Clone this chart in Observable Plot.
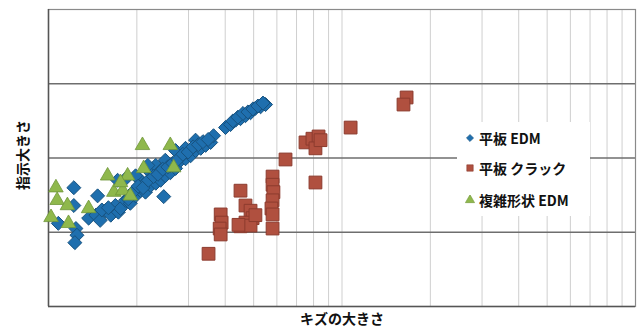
<!DOCTYPE html>
<html><head><meta charset="utf-8">
<script src="https://cdn.jsdelivr.net/npm/d3@7"></script>
<script src="https://cdn.jsdelivr.net/npm/@observablehq/plot@0.6"></script>
<style>
body{margin:0;background:#fff;}
#wrap{position:relative;width:638px;height:331px;font-family:"Noto Sans CJK JP","Noto Sans",sans-serif;color:#111;}
#wrap > svg{position:absolute;left:0;top:0;}
.ylab{position:absolute;left:22px;top:155px;transform:translate(-50%,-50%) rotate(-90deg);font-weight:bold;font-size:14px;white-space:nowrap;}
.xlab{position:absolute;left:342px;top:318px;transform:translate(-50%,-50%);font-weight:bold;font-size:14px;white-space:nowrap;}
#legend{position:absolute;left:457px;top:122px;width:133px;height:94px;background:#fff;}
#legend .li{position:absolute;left:8px;display:flex;align-items:center;font-size:14px;font-weight:bold;white-space:nowrap;}
#legend .li svg{position:static;margin-right:4px;flex:none;}
</style></head><body>
<div id="wrap"></div>
<script>
const seriesNames = ["平板 EDM", "平板 クラック", "複雑形状 EDM"];
const xLabel = "キズの大きさ";
const yLabel = "指示大きさ";
const xGrid = [2,3,4,5,6,7,8,9,10,20,30,40,50,60,70,80,90];
const yGrid = [1,2,3];

// 平板 EDM (blue diamonds)
const edmX = [1.22,1.47,1.22,1.08,1.24,1.25,1.23,1.37,1.45,1.50,1.56,1.63,1.69,1.73,1.76,1.83,1.90,1.98,2.06,2.06,2.14,2.23,2.23,2.32,2.32,2.41,2.41,2.47,2.50,2.50,2.60,2.60,2.71,2.71,2.82,2.93,2.93,3.05,3.17,3.17,3.30,3.43,3.57,3.65,4.01,4.17,4.34,4.51,4.69,4.88,5.07,5.28,5.49,1.72,1.83,1.98,2.18,2.11,
  1.52,1.60,1.87,1.95,2.02,2.10,2.19,2.28,2.36,2.45,2.55,2.65,2.76,2.87,2.99,3.11,3.24,3.36,3.50,4.25,4.42,4.60,4.78,4.97,5.17,5.38];
const edmY = [1.60,1.49,1.36,1.12,1.05,0.96,0.86,1.19,1.23,1.16,1.29,1.23,1.36,1.27,1.32,1.43,1.39,1.49,1.56,1.70,1.54,1.63,1.80,1.66,1.90,1.70,1.83,1.48,1.76,1.97,1.80,1.90,1.86,2.10,1.97,1.99,2.13,2.03,2.10,2.24,2.13,2.17,2.21,2.30,2.41,2.45,2.51,2.53,2.57,2.61,2.67,2.69,2.72,1.70,1.72,1.76,1.90,1.64,
  1.30,1.33,1.45,1.55,1.62,1.60,1.70,1.75,1.78,1.85,1.88,1.93,1.98,2.05,2.08,2.15,2.18,2.22,2.25,2.50,2.55,2.60,2.62,2.66,2.70,2.74];

// 平板 クラック (red squares)
const crackX = [3.51,3.86,3.89,3.83,3.86,4.51,4.69,4.88,4.96,4.69,4.51,4.88,5.07,4.44,5.80,5.80,5.84,5.80,5.75,5.80,5.80,6.42,8.12,7.51,7.93,8.32,8.12,8.45,10.7,16.6,16.2];
const crackY = [0.71,1.24,1.13,1.05,0.97,1.56,1.36,1.29,1.19,1.13,1.08,1.09,1.23,1.10,1.75,1.64,1.54,1.43,1.32,1.24,1.05,1.98,1.67,2.21,2.26,2.29,2.13,2.24,2.41,2.815,2.72];

// 複雑形状 EDM (green triangles)
const cxX = [2.09,2.60,2.11,2.67,1.06,1.07,1.16,1.02,1.17,1.37,1.59,1.86,1.67,1.79,1.90,1.76];
const cxY = [2.17,2.17,1.86,1.87,1.60,1.43,1.36,1.20,1.12,1.32,1.76,1.76,1.54,1.56,1.49,1.67];

const colors = ["#1f6fae","#b0503f","#8fb84c"];
const strokes = ["#17527f","#8c3b2e","#6f9638"];

const toRows = (xs, ys) => xs.map((x, i) => ({x, y: ys[i]}));
const edm = toRows(edmX, edmY), crack = toRows(crackX, crackY), cx = toRows(cxX, cxY);

const chart = Plot.plot({
  width: 638, height: 331,
  marginLeft: 48, marginRight: 3, marginTop: 9, marginBottom: 25,
  x: {type: "log", domain: [1, 100], axis: null},
  y: {domain: [0, 4], axis: null},
  style: {background: "transparent"},
  marks: [
    Plot.ruleX(xGrid, {stroke: "#cfcfcf", strokeWidth: 1}),
    Plot.ruleY(yGrid, {stroke: "#6e6e6e", strokeWidth: 1.3}),
    Plot.frame({stroke: "#8a8a8a", strokeWidth: 1.2}),
    Plot.ruleX([1], {stroke: "#555", strokeWidth: 1.5}),
    Plot.ruleY([0], {stroke: "#555", strokeWidth: 1.5}),
    Plot.dot(edm, {x: "x", y: "y", symbol: "diamond2", r: 6.3, fill: colors[0], stroke: strokes[0], strokeWidth: 1}),
    Plot.dot(crack, {x: "x", y: "y", symbol: "square", r: 7.2, fill: colors[1], stroke: strokes[1], strokeWidth: 1}),
    Plot.dot(cx, {x: "x", y: "y", symbol: "triangle", r: 5.4, fill: colors[2], stroke: strokes[2], strokeWidth: 0.8})
  ]
});

const wrap = document.getElementById("wrap");
wrap.appendChild(chart);

const yl = document.createElement("div"); yl.className = "ylab"; yl.textContent = yLabel; wrap.appendChild(yl);
const xl = document.createElement("div"); xl.className = "xlab"; xl.textContent = xLabel; wrap.appendChild(xl);

const legend = document.createElement("div"); legend.id = "legend"; wrap.appendChild(legend);
const symTypes = [d3.symbolDiamond2, d3.symbolSquare, d3.symbolTriangle];
const symR = [3.2, 3.6, 3.4];
const rowTop = [6, 36, 68];
seriesNames.forEach((name, i) => {
  const item = document.createElement("div");
  item.className = "li";
  item.style.top = rowTop[i] + "px";
  const s = d3.create("svg").attr("width", 10).attr("height", 10);
  s.append("path")
    .attr("transform", "translate(5,5)")
    .attr("d", d3.symbol(symTypes[i], Math.PI * symR[i] * symR[i])())
    .attr("fill", colors[i]).attr("stroke", strokes[i]).attr("stroke-width", 0.6);
  item.appendChild(s.node());
  const t = document.createElement("span"); t.textContent = name; item.appendChild(t);
  legend.appendChild(item);
});
</script>
</body></html>
